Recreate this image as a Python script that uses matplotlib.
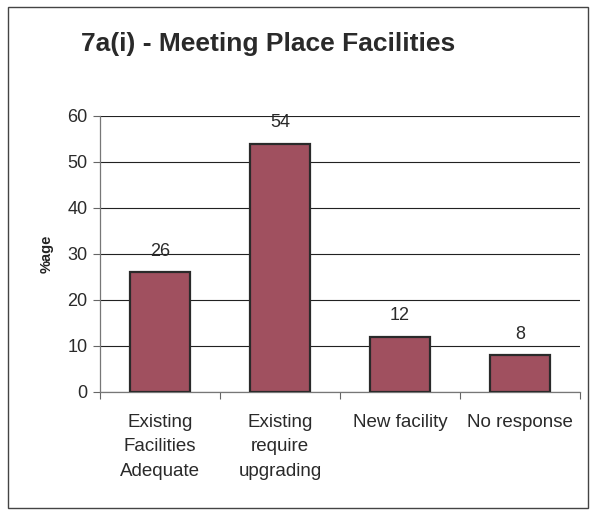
import matplotlib
matplotlib.use("Agg")
import matplotlib.pyplot as plt
from matplotlib.patches import Rectangle

categories = ["Existing\nFacilities\nAdequate", "Existing\nrequire\nupgrading", "New facility", "No response"]
values = [26, 54, 12, 8]
yticks = [0, 10, 20, 30, 40, 50, 60]

plt.rcParams['font.family'] = ['Liberation Sans', 'DejaVu Sans']

W, H = 595, 512
fig = plt.figure(figsize=(W/100, H/100), dpi=100)
ax = fig.add_axes([100/W, 1-392/H, 480/W, 276/H])

x = list(range(len(categories)))
ax.bar(x, values, width=0.5, color="#A0505F", edgecolor="#2a2a2a", linewidth=1.6, zorder=3)
for xi, v in zip(x, values):
    ax.annotate(str(v), (xi, v), xytext=(0, 9), textcoords="offset points",
                ha="center", va="bottom", fontsize=13, color="#2a2a2a")

ax.set_xlim(-0.5, len(categories)-0.5)
ax.set_ylim(0, 60)
ax.set_yticks(yticks)
ax.tick_params(axis='y', labelsize=13, length=5, width=0.8, color="#666666", labelcolor="#2a2a2a", pad=4)
ax.set_xticks(x)
ax.set_xticklabels(categories, linespacing=1.55)
ax.tick_params(axis='x', which='major', length=0, labelsize=13.5, labelcolor="#2a2a2a", pad=16)
ax.set_xticks([i-0.5 for i in range(len(categories)+1)], minor=True)
ax.tick_params(axis='x', which='minor', length=5, width=0.8, color="#666666")
ax.grid(axis='y', color="#222222", linewidth=0.8, zorder=0)
for s in ["top", "right"]:
    ax.spines[s].set_visible(False)
for s in ["left", "bottom"]:
    ax.spines[s].set_color("#777777")
    ax.spines[s].set_linewidth(0.9)
ax.set_ylabel("%age", fontsize=10.5, fontweight="bold", color="#222222", labelpad=10)

fig.text(268/W, 1-44/H, "7a(i) - Meeting Place Facilities", ha="center", va="center",
         fontsize=19, fontweight="bold", color="#2a2a2a")

fig.patches.append(Rectangle((8/W, 1-508/H), 580/W, 501/H, transform=fig.transFigure,
                             fill=False, edgecolor="#444444", linewidth=1.0))

fig.savefig("out.png", dpi=100)
